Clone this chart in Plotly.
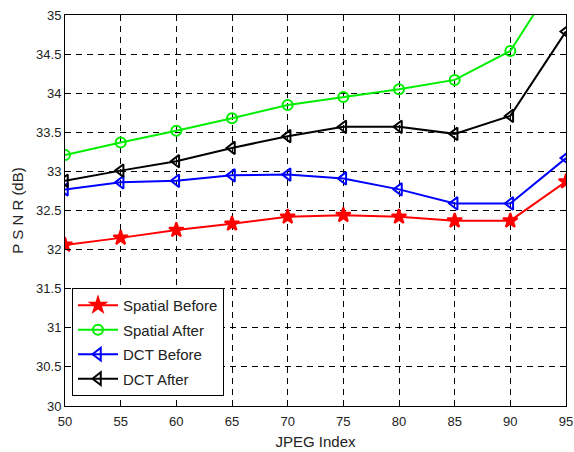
import plotly.graph_objects as go

jpeg_index = [50, 55, 60, 65, 70, 75, 80, 85, 90, 95]
spatial_before = [32.06, 32.15, 32.25, 32.33, 32.42, 32.44, 32.42, 32.37, 32.37, 32.87]
spatial_after = [33.21, 33.37, 33.52, 33.68, 33.85, 33.95, 34.05, 34.17, 34.54, 35.65]
dct_before = [32.77, 32.86, 32.88, 32.95, 32.96, 32.91, 32.77, 32.59, 32.59, 33.17]
dct_after = [32.88, 33.01, 33.13, 33.30, 33.45, 33.57, 33.57, 33.48, 33.71, 34.79]

x_ticks = [50, 55, 60, 65, 70, 75, 80, 85, 90, 95]
y_ticks = [30, 30.5, 31, 31.5, 32, 32.5, 33, 33.5, 34, 34.5, 35]

font = "Liberation Sans, Arial, sans-serif"

fig = go.Figure()
series = [
    ("Spatial Before", spatial_before, "#ff0000", "star", 11),
    ("Spatial After", spatial_after, "#00ee00", "circle-open", 10),
    ("DCT Before", dct_before, "#0000ff", "triangle-left-open", 11),
    ("DCT After", dct_after, "#000000", "triangle-left-open", 11),
]
for name, ys, color, sym, size in series:
    fig.add_trace(go.Scatter(
        x=jpeg_index, y=ys, name=name, mode="lines+markers", legendgroup=name,
        line=dict(color=color, width=2),
        marker=dict(symbol=sym, size=size, color=color,
                    line=dict(color=color, width=2)),
        cliponaxis=True,
    ))

axis_common = dict(
    showline=True, linecolor="black", linewidth=1, mirror="allticks",
    ticks="inside", ticklen=5, tickcolor="black",
    showgrid=True, gridcolor="black", gridwidth=1, griddash="6px,5px",
    zeroline=False, automargin=False,
    tickfont=dict(family=font, size=13, color="#222"),
)

fig.update_xaxes(range=[50, 95], tickvals=x_ticks, ticklabelstandoff=3,
                 title=dict(text="JPEG Index", font=dict(family=font, size=15, color="#222"), standoff=8),
                 **axis_common)
fig.update_yaxes(range=[30, 35], tickvals=y_ticks, ticktext=[f"{v:g}" for v in y_ticks],
                 title=dict(text="P S N R (dB)", font=dict(family=font, size=15, color="#222"), standoff=8),
                 **axis_common)

fig.update_layout(
    width=574, height=452,
    margin=dict(l=65, r=8, t=15, b=46),
    plot_bgcolor="white", paper_bgcolor="white",
    font=dict(family=font, size=13, color="#222"),
    legend=dict(x=0.014, y=0.302, xanchor="left", yanchor="top",
                bgcolor="white", bordercolor="black", borderwidth=1,
                font=dict(family=font, size=15, color="#222"),
                tracegroupgap=2, itemwidth=40),
    showlegend=True,
)

fig.write_html("out.html", config={"displayModeBar": False},
               post_script="document.body.style.margin='0';document.body.style.overflow='hidden';")
